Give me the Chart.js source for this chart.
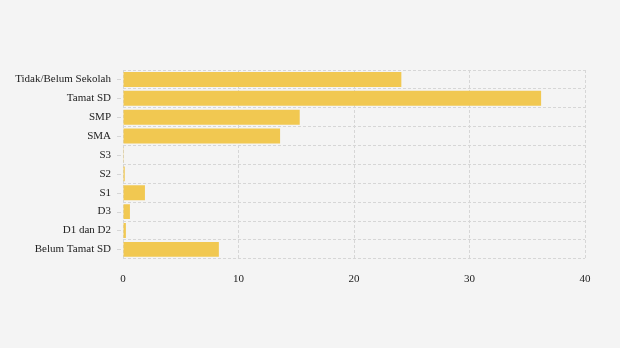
<!DOCTYPE html>
<html>
<head>
<meta charset="utf-8">
<script src="https://cdn.jsdelivr.net/npm/chart.js@4/dist/chart.umd.min.js"></script>
<style>
  html, body { margin: 0; padding: 0; background: #f4f4f4; }
  #wrap { width: 620px; height: 348px; }
</style>
</head>
<body>
<div id="wrap"><canvas id="chart"></canvas></div>
<script>
// ── Data ─────────────────────────────────────────────────────
const categories = ['Tidak/Belum Sekolah', 'Tamat SD', 'SMP', 'SMA', 'S3', 'S2', 'S1', 'D3', 'D1 dan D2', 'Belum Tamat SD'];
const values     = [24.1, 36.2, 15.3, 13.6, 0.02, 0.15, 1.9, 0.6, 0.25, 8.3];
const xTicks     = [0, 10, 20, 30, 40];

const gridColor = '#d6d6d6';
const textColor = '#222222';
const fontSpec  = { family: '"Liberation Serif", "Times New Roman", serif', size: 11 };

// ── Tick marks at category centres (grid lines sit between) ─
const centreTicks = {
    id: 'centreTicks',
    afterDraw(chart) {
        const y = chart.scales.y;
        const ctx = chart.ctx;
        ctx.save();
        ctx.strokeStyle = gridColor;
        ctx.lineWidth = 1;
        categories.forEach(function (c, i) {
            const py = Math.round(y.getPixelForTick(i)) + 0.5;
            ctx.beginPath();
            ctx.moveTo(y.right - 6, py);
            ctx.lineTo(y.right - 2, py);
            ctx.stroke();
        });
        ctx.restore();
    }
};

new Chart(document.getElementById('chart'), {
    type: 'bar',
    data: {
        labels: categories,
        datasets: [{
            data: values,
            backgroundColor: '#f1c851',
            borderWidth: 0,
            barPercentage: 0.79,
            categoryPercentage: 1.0
        }]
    },
    plugins: [centreTicks],
    options: {
        indexAxis: 'y',
        responsive: true,
        maintainAspectRatio: false,
        animation: false,
        layout: { padding: { left: 0, top: 70, right: 35, bottom: 48 } },
        plugins: {
            legend: { display: false },
            tooltip: { enabled: false }
        },
        scales: {
            x: {
                min: 0,
                max: 40,
                afterBuildTicks: function (scale) {
                    scale.ticks = xTicks.map(v => ({ value: v }));
                },
                border: { display: false, dash: [3, 2] },
                grid: {
                    color: gridColor,
                    lineWidth: 1,
                    drawTicks: false
                },
                ticks: {
                    padding: 14,
                    color: textColor,
                    font: fontSpec
                }
            },
            y: {
                afterFit: function (scale) { scale.width = 123; },
                border: { display: false, dash: [3, 2] },
                grid: {
                    offset: true,
                    color: gridColor,
                    lineWidth: 1,
                    drawTicks: false
                },
                ticks: {
                    padding: 12,
                    color: textColor,
                    font: fontSpec
                }
            }
        }
    }
});
</script>
</body>
</html>
